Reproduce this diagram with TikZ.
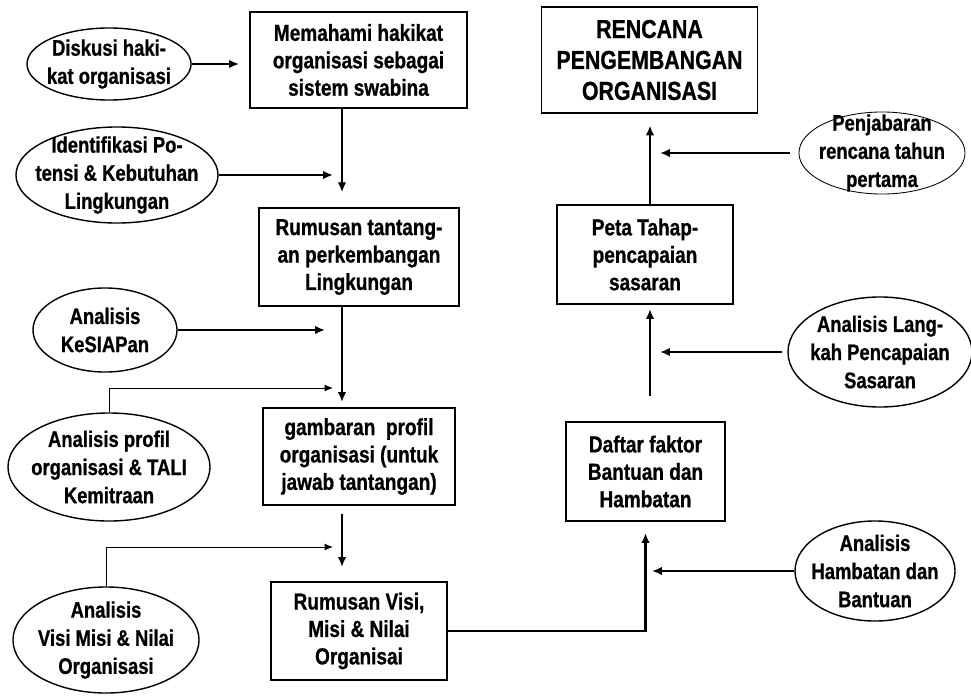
\documentclass[tikz,border=0pt]{standalone}
\usepackage{fontspec}
\setmainfont{Liberation Sans}[FakeStretch=0.82, BoldFeatures={FakeBold=0.8}]
\usetikzlibrary{shapes.geometric,arrows.meta}

\tikzset{
  stage/.style={draw, line width=1.4pt, align=center, inner sep=2pt,
    font=\fontsize{16.5}{19.5}\selectfont\bfseries},
  oval/.style={draw, ellipse, line width=1pt, inner sep=0pt},
  flow/.style={line width=2pt, -{Latex[length=7pt,width=6pt]}},
  feed/.style={line width=0.7pt, -{Latex[length=6pt,width=5pt]}},
  every label/.style={align=center},
}

\begin{document}
\begin{tikzpicture}[x=0.025cm, y=-0.025cm, font=\fontsize{16}{20}\selectfont\bfseries]
\useasboundingbox (0,0) rectangle (971,696);

\node[stage, minimum width=5.43cm, minimum height=2.4cm] (memahami) at (358.5,60)
  {Memahami hakikat\\organisasi sebagai\\sistem swabina};
\node[stage, minimum width=5cm, minimum height=2.45cm] (tantangan) at (359,257)
  {Rumusan tantang-\\an perkembangan\\Lingkungan};
\node[stage, minimum width=4.8cm, minimum height=2.43cm] (gambaran) at (359,456.5)
  {gambaran\ \ profil\\organisasi (untuk\\jawab tantangan)};
\node[stage, minimum width=4.4cm, minimum height=2.45cm] (rumusanvisi) at (359,631)
  {Rumusan Visi,\\Misi \& Nilai\\Organisai};
\node[stage, line width=0.8pt, minimum width=5.38cm, minimum height=2.65cm,
  font=\fontsize{18.5}{22}\selectfont\bfseries] (rencana) at (649.5,60)
  {RENCANA\\PENGEMBANGAN\\ORGANISASI};
\node[stage, minimum width=4.4cm, minimum height=2.48cm] (peta) at (645,254.5)
  {Peta Tahap-\\pencapaian\\sasaran};
\node[stage, minimum width=3.98cm, minimum height=2.48cm] (daftar) at (645.5,471.5)
  {Daftar faktor\\Bantuan dan\\Hambatan};

\node[oval, minimum width=4.1cm, minimum height=1.8cm,
  label={center:Diskusi haki-\\kat organisasi}] (diskusi) at (109,64) {};
\node[oval, minimum width=5.05cm, minimum height=2.4cm,
  label={center:Identifikasi Po-\\tensi \& Kebutuhan\\Lingkungan}] (identifikasi) at (117,175) {};
\node[oval, minimum width=3.6cm, minimum height=2.1cm,
  label={center:Analisis\\KeSIAPan}] (kesiapan) at (105,330) {};
\node[oval, minimum width=5.05cm, minimum height=2.7cm,
  label={center:Analisis profil\\organisasi \& TALI\\Kemitraan}] (anprofil) at (109,467) {};
\node[oval, minimum width=4.65cm, minimum height=2.65cm,
  label={center:Analisis\\Visi Misi \& Nilai\\Organisasi}] (anvisi) at (106,640) {};
\node[oval, line width=0.6pt, minimum width=4.15cm, minimum height=2.05cm,
  label={center:Penjabaran\\rencana tahun\\pertama}] (penjabaran) at (882,153) {};
\node[oval, minimum width=4.6cm, minimum height=2.75cm,
  label={center:Analisis Lang-\\kah Pencapaian\\Sasaran}] (langkah) at (880,352) {};
\node[oval, minimum width=4cm, minimum height=2.5cm,
  label={center:Analisis\\Hambatan dan\\Bantuan}] (anhambatan) at (875,571) {};

\coordinate (spine) at (342,0);
\coordinate (inlet) at (333,0);
\coordinate (inletb) at (325,0);
\coordinate (tapA) at (333,388);
\coordinate (tapB) at (333,547);
\coordinate (rspine) at (650,0);
\coordinate (rtip) at (660,0);
\coordinate (rtipb) at (652,0);

\draw[flow, shorten >=7pt] (diskusi.east) -- (diskusi.east -| memahami.west);
\draw[flow, shorten >=10.5pt] (memahami.south -| spine) -- (tantangan.north -| spine);
\draw[flow] (identifikasi.east) -- (identifikasi.east -| inlet);
\draw[flow, shorten >=3.5pt] (tantangan.south -| spine) -- (gambaran.north -| spine);
\draw[flow] (kesiapan.east) -- (kesiapan.east -| inletb);
\draw[feed] (anprofil.north) |- (tapA);
\draw[flow, shorten <=5.7pt, shorten >=10pt] (gambaran.south -| spine) -- (rumusanvisi.north -| spine);
\draw[feed] (anvisi.north) |- (tapB);

\draw[flow, shorten >=7.8pt] (rumusanvisi.east) -| (daftar.south);
\draw[flow] (anhambatan.west) -- (anhambatan.west -| rtipb);
\draw[flow, shorten <=17.8pt, shorten >=2.8pt] (daftar.north -| rspine) -- (peta.south -| rspine);
\draw[flow, shorten <=4pt] (langkah.west) -- (langkah.west -| rtip);
\draw[flow, shorten >=8.5pt] (peta.north -| rspine) -- (rencana.south -| rspine);
\draw[flow, shorten <=6.4pt] (penjabaran.west) -- (penjabaran.west -| rtip);

\end{tikzpicture}
\end{document}
